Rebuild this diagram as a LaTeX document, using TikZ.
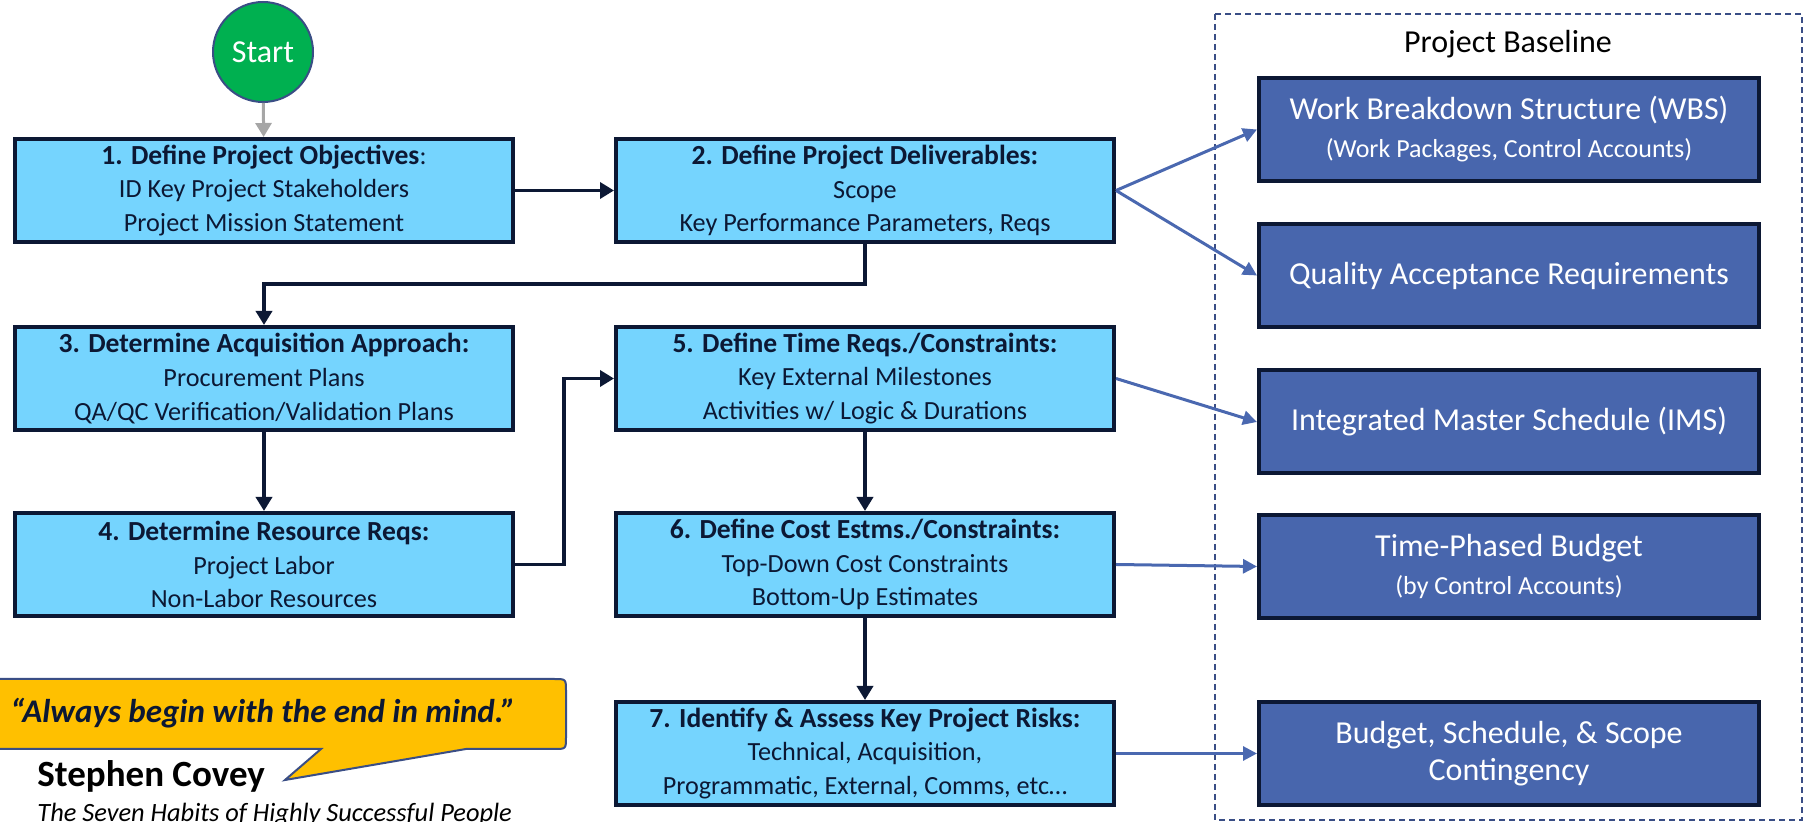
\documentclass[tikz,border=0pt]{standalone}
\usepackage{fontspec}
\setmainfont{Carlito}
\usetikzlibrary{arrows.meta,positioning}

\definecolor{navy}{HTML}{0C1834}
\definecolor{skyfill}{HTML}{75D4FE}
\definecolor{basefill}{HTML}{4866AD}
\definecolor{linkblue}{HTML}{4A68B0}
\definecolor{framecol}{HTML}{3A4E85}
\definecolor{gogreen}{HTML}{00B050}
\definecolor{quotefill}{HTML}{FFC000}

\newcommand{\titlefont}{\fontsize{13.8}{16.8}\selectfont\bfseries}
\newcommand{\subfont}{\fontsize{13}{16.5}\selectfont}

\tikzset{
  phase/.style={draw=navy, line width=2pt, fill=skyfill, minimum width=249pt,
    minimum height=51.5pt, align=center, inner sep=0pt, text=navy,
    font=\fontsize{13.1}{16.8}\selectfont},
  basebox/.style={draw=navy, line width=2pt, fill=basefill, text=white, minimum width=250pt,
    minimum height=51.5pt, align=center, inner sep=0pt, font=\fontsize{16}{18}\selectfont},
  flow/.style={draw=navy, line width=1.75pt, -{Triangle[length=7pt,width=8pt]}},
  feed/.style={draw=linkblue, line width=1.5pt, -{Triangle[length=7pt,width=7pt]}},
}

\begin{document}
\begin{tikzpicture}[x=0.5pt,y=-0.5pt]
    \useasboundingbox (0,0) rectangle (1806,822);

    % Project baseline frame
    \draw[framecol, line width=1pt, dash pattern=on 3pt off 2pt] (1215,14) rectangle (1802,820);
    \node[font=\fontsize{16}{18}\selectfont] (baseline) at (1508,44) {Project Baseline};

    % Start
    \node[circle, draw=framecol, line width=1pt, fill=gogreen, minimum size=50pt, inner sep=0pt,
      text=white, font=\fontsize{16}{18}\selectfont] (start) at (263,52) {Start};

    % Planning steps
    \node[phase] (objectives) at (264,190.5) {{\titlefont 1. Define Project Objectives}:\\ ID Key Project Stakeholders\\ Project Mission Statement};
    \node[phase] (deliverables) at (865,190.5) {{\titlefont 2. Define Project Deliverables:}\\ Scope\\ Key Performance Parameters, Reqs};
    \node[phase] (acquisition) at (264,378.5) {{\titlefont 3. Determine Acquisition Approach:}\\ Procurement Plans\\ QA/QC Verification/Validation Plans};
    \node[phase] (resources) at (264,564.5) {{\titlefont 4. Determine Resource Reqs:}\\ Project Labor\\ Non-Labor Resources};
    \node[phase] (schedule) at (865,378.5) {{\titlefont 5. Define Time Reqs./Constraints:}\\ Key External Milestones\\ Activities w/ Logic \& Durations};
    \node[phase] (cost) at (865,564.5) {{\titlefont 6. Define Cost Estms./Constraints:}\\ Top-Down Cost Constraints\\ Bottom-Up Estimates};
    \node[phase] (risks) at (865,753.5) {{\titlefont 7. Identify \& Assess Key Project Risks:}\\ Technical, Acquisition,\\ Programmatic, External, Comms, etc…};

    % Baseline products
    \node[basebox] (wbs) at (1509,129.5) {Work Breakdown Structure (WBS)\\[1pt] {\subfont (Work Packages, Control Accounts)}};
    \node[basebox] (quality) at (1509,275.5) {Quality Acceptance Requirements};
    \node[basebox] (ims) at (1509,422) {Integrated Master Schedule (IMS)};
    \node[basebox] (budget) at (1509,566.5) {Time-Phased Budget\\[1pt] {\subfont (by Control Accounts)}};
    \node[basebox, font=\fontsize{16}{18.5}\selectfont] (contingency) at (1509,753.5) {Budget, Schedule, \& Scope\\ Contingency};

    % Flow between steps
    \draw[draw=black!35, line width=1.5pt, -{Triangle[length=7pt,width=8pt]}] (start) -- (objectives);
    \draw[flow] (objectives) -- (deliverables);
    \draw[flow] (deliverables.south) -- ++(0,40) -| (acquisition.north);
    \draw[flow] (acquisition) -- (resources);
    \draw[flow] (resources.east) -- ++(49,0) |- (schedule.west);
    \draw[flow] (schedule) -- (cost);
    \draw[flow] (cost) -- (risks);

    % Feeds into the baseline
    \draw[feed] (deliverables.east) -- (wbs.west);
    \draw[feed] (deliverables.east) -- (quality.west);
    \draw[feed] (schedule.east) -- (ims.west);
    \draw[feed] (cost.east) -- (budget.west);
    \draw[feed] (risks.east) -- (contingency.west);

    % Quote callout
    \draw[fill=quotefill, draw=framecol, line width=1pt]
      (-10,679) -- (554,679) .. controls (566,679) .. (566,691) -- (566,737)
      .. controls (566,749) .. (554,749) -- (466,749) -- (285,780) -- (321,749) -- (-10,749) -- cycle;
    \node[font=\fontsize{16.5}{18}\selectfont\bfseries\itshape, text=navy] (quote) at (263,713) {“Always begin with the end in mind.”};
    \node[anchor=west, inner sep=0pt, font=\fontsize{18.5}{20}\selectfont\bfseries] (author) at (37,776) {Stephen Covey};
    \node[anchor=west, inner sep=0pt, font=\fontsize{13.2}{16}\selectfont\itshape] (book) at (37,815) {The Seven Habits of Highly Successful People};
\end{tikzpicture}
\end{document}
